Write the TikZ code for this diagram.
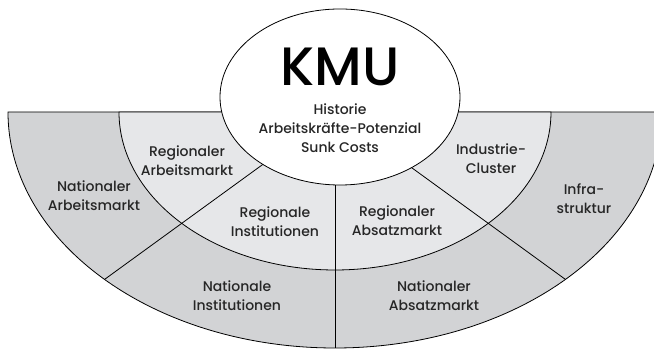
\documentclass[tikz,border=0pt]{standalone}
\usepackage{fontspec}
\setmainfont{Poppins}[UprightFont={* Medium}]
\usepackage{tikz}
\usetikzlibrary{shapes.geometric}
\definecolor{outerGray}{RGB}{210,211,213}
\definecolor{innerGray}{RGB}{230,231,233}
\tikzstyle{kRingOuter} = [draw=black, line width=0.8pt, fill=outerGray]
\tikzstyle{kRingInner} = [draw=black, line width=0.8pt, fill=innerGray]
\tikzstyle{kSep} = [draw=black, line width=0.8pt]
\tikzstyle{kCore} = [ellipse, draw=black, line width=0.8pt, fill=white, minimum width=240pt, minimum height=176pt, inner sep=0pt]
\tikzstyle{kTitle} = [font=\fontsize{54}{54}\selectfont, inner sep=0pt]
\tikzstyle{kLabel} = [align=center, font=\fontsize{14}{19}\selectfont, text=black!85, inner sep=0pt]

\begin{document}
\begin{tikzpicture}[x=1pt, y=1pt]
    \useasboundingbox (0,0) rectangle (654,350);
    \clip (0,0) rectangle (654,350);
    \coordinate (center) at (335,238);

    % rings
    \filldraw [kRingOuter] (center) ++(-327,0) arc[start angle=180, end angle=360, x radius=327, y radius=236] -- cycle;
    \filldraw [kRingInner] (center) ++(-216,0) arc[start angle=180, end angle=360, x radius=216, y radius=158] -- cycle;

    % separators
    \begin{scope}
        \clip (center) ++(-327,0) arc[start angle=180, end angle=360, x radius=327, y radius=236] -- cycle;
        \foreach \a in {216,270,324}
            \draw [kSep] (center) -- ++(\a:400);
    \end{scope}

    \node (kmu) [kCore] at (340,253) {};
    \node (title) [kTitle] at (340,283) {KMU};
    \node (factors) [kLabel] at (340,222) {Historie\\Arbeitskräfte-Potenzial\\Sunk Costs};

    \node (regArbeit) [kLabel] at (187,189) {Regionaler\\Arbeitsmarkt};
    \node (cluster) [kLabel] at (491,191) {Industrie-\\Cluster};
    \node (natArbeit) [kLabel] at (94,154) {Nationaler\\Arbeitsmarkt};
    \node (regInst) [kLabel] at (275,128) {Regionale\\Institutionen};
    \node (regAbsatz) [kLabel] at (397,129) {Regionaler\\Absatzmarkt};
    \node (infra) [kLabel] at (584,151) {Infra-\\struktur};
    \node (natInst) [kLabel] at (237,54) {Nationale\\Institutionen};
    \node (natAbsatz) [kLabel] at (434,54) {Nationaler\\Absatzmarkt};
\end{tikzpicture}
\end{document}
